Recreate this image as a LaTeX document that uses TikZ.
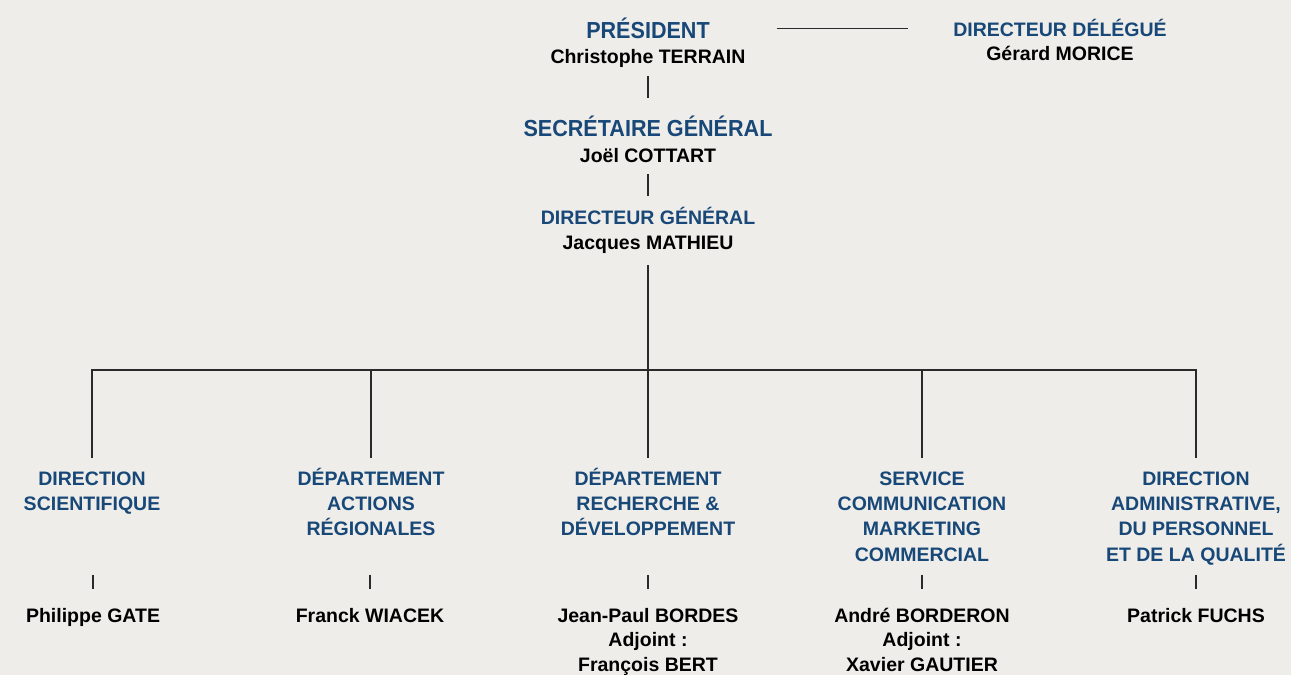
\documentclass[tikz,border=0pt]{standalone}
\usepackage{fontspec}
\setmainfont{Liberation Sans}
\newfontfamily\bigfont{Liberation Sans}[FakeStretch=0.93]
\definecolor{bg}{HTML}{EEEDE9}
\definecolor{tblue}{HTML}{184878}
\definecolor{ln}{HTML}{2A2A2A}
\begin{document}
\begin{tikzpicture}[x=1pt,y=-1pt,
  ttl/.style={inner sep=0pt, anchor=base, text=tblue, font=\bfseries\fontsize{19.5}{25.4}\selectfont, align=center},
  big/.style={ttl, font=\bigfont\bfseries\fontsize{23.2}{26}\selectfont},
  nm/.style={inner sep=0pt, anchor=base, text=black, font=\bfseries\fontsize{19.5}{24.7}\selectfont, align=center},
  con/.style={draw=ln, line width=1.1pt}]
\fill[bg] (0,0) rectangle (1291,675);
\useasboundingbox (0,0) rectangle (1291,675);

% top chain
\node[big] (pres) at (648,38.3) {PRÉSIDENT};
\node[nm] (presn) at (648,63.3) {Christophe TERRAIN};
\node[ttl] (dd) at (1060,36.3) {DIRECTEUR DÉLÉGUÉ};
\node[nm] (ddn) at (1060,60.5) {Gérard MORICE};
\node[big] (sg) at (648,136) {SECRÉTAIRE GÉNÉRAL};
\node[nm] (sgn) at (648,162) {Joël COTTART};
\node[ttl] (dg) at (648,224.3) {DIRECTEUR GÉNÉRAL};
\node[nm] (dgn) at (648,249.3) {Jacques MATHIEU};
\coordinate (bus) at (648,370);

% departments (anchor = baseline of the last line)
\node[ttl] (c1) at (92,510.4) {DIRECTION\\SCIENTIFIQUE};
\node[ttl] (c2) at (371,535.8) {DÉPARTEMENT\\ACTIONS\\RÉGIONALES};
\node[ttl] (c3) at (648,535.8) {DÉPARTEMENT\\RECHERCHE \&\\DÉVELOPPEMENT};
\node[ttl] (c4) at (922,561.2) {SERVICE\\COMMUNICATION\\MARKETING\\COMMERCIAL};
\node[ttl] (c5) at (1196,561.2) {DIRECTION\\ADMINISTRATIVE,\\DU PERSONNEL\\ET DE LA QUALITÉ};

\node[nm] (n1) at (93,622) {Philippe GATE};
\node[nm] (n2) at (370,622) {Franck WIACEK};
\node[nm] (n3) at (648,671.4) {Jean-Paul BORDES\\Adjoint :\\François BERT};
\node[nm] (n4) at (922,671.4) {André BORDERON\\Adjoint :\\Xavier GAUTIER};
\node[nm] (n5) at (1196,622) {Patrick FUCHS};

% connectors
\draw[con] ([xshift=67pt,yshift=10pt]pres.base east) -- ([xshift=-45pt,yshift=8pt]dd.base west);
\draw[con] ([yshift=-12.7pt]presn.base) -- ([yshift=38pt]sg.base);
\draw[con] ([yshift=-12pt]sgn.base) -- ([yshift=28.3pt]dg.base);
\draw[con] ([yshift=-15.7pt]dgn.base) -- (bus);
\draw[con] ([yshift=52.4pt]c1.base) |- (bus -| c5) -- ([yshift=103.2pt]c5.base);
\foreach \c/\s in {c2/77.8,c3/77.8,c4/103.2}{\draw[con] (bus -| \c) -- ([yshift=\s pt]\c.base);}
\foreach \n/\a/\b in {n1/47/33,n2/47/33,n3/96.4/82.4,n4/96.4/82.4,n5/47/33}{\draw[con] ([yshift=\a pt]\n.base) -- ([yshift=\b pt]\n.base);}
\end{tikzpicture}
\end{document}
